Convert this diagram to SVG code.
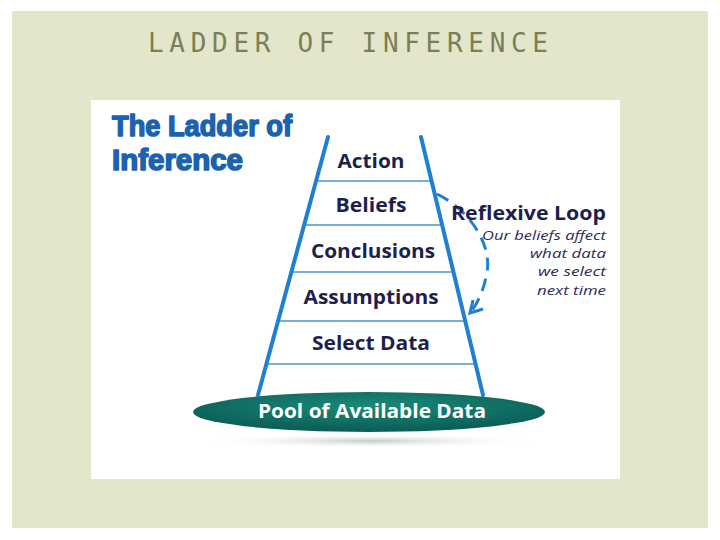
<svg xmlns="http://www.w3.org/2000/svg" width="720" height="540" viewBox="0 0 720 540">
<defs>
<style>
.rail{stroke:#1f7fd2;stroke-width:4;fill:none;stroke-linecap:round}
.rung{stroke:#7aaed6;stroke-width:2;fill:none}
.lbl{font-family:"Open Sans","Noto Sans","Liberation Sans",sans-serif;font-weight:bold;font-size:19px;fill:#1d1f4d;text-anchor:middle}
.note{font-family:"Open Sans","Noto Sans","Liberation Sans",sans-serif;font-style:italic;font-size:13.5px;fill:#2a2c55;text-anchor:end}
.ttl{font-family:"Liberation Sans","Arial",sans-serif;font-weight:bold;font-size:30px;fill:#1b62b0;stroke:#1b62b0;stroke-width:1.6;stroke-linejoin:round}
</style>
<radialGradient id="pool" cx="0.5" cy="0.35" r="0.6">
<stop offset="0" stop-color="#1a8a78"/>
<stop offset="1" stop-color="#0b5f57"/>
</radialGradient>
<radialGradient id="shadow" cx="0.5" cy="0.5" r="0.5">
<stop offset="0" stop-color="#b9c4c4" stop-opacity="0.9"/>
<stop offset="1" stop-color="#ffffff" stop-opacity="0"/>
</radialGradient>
</defs>
<rect x="0" y="0" width="720" height="540" fill="#ffffff"/>
<rect x="12" y="11" width="696" height="517" fill="#e4e6cc"/>
<text x="148" y="52" font-family="'DejaVu Sans Mono','Liberation Mono',monospace" font-size="26" fill="#7b7f55" textLength="400" lengthAdjust="spacing">LADDER OF INFERENCE</text>
<rect x="91" y="100" width="529" height="379" fill="#ffffff"/>
<g id="title">
<text class="ttl" x="112" y="136" textLength="180" lengthAdjust="spacingAndGlyphs">The Ladder of</text>
<text class="ttl" x="112" y="170" textLength="131" lengthAdjust="spacingAndGlyphs">Inference</text>
</g>
<g id="ladder">
<line class="rung" x1="316" y1="181" x2="432" y2="181"/>
<line class="rung" x1="304" y1="225" x2="443" y2="225"/>
<line class="rung" x1="291" y1="272" x2="454" y2="272"/>
<line class="rung" x1="278" y1="321" x2="466" y2="321"/>
<line class="rung" x1="266" y1="364" x2="476" y2="364"/>
<line class="rail" x1="328" y1="137" x2="258" y2="395"/>
<line class="rail" x1="421" y1="137" x2="483" y2="395"/>
</g>
<g id="action"><text class="lbl" x="371" y="168" textLength="67" lengthAdjust="spacingAndGlyphs">Action</text></g>
<g id="beliefs"><text class="lbl" x="371" y="212" textLength="71" lengthAdjust="spacingAndGlyphs">Beliefs</text></g>
<g id="conclusions"><text class="lbl" x="373" y="258" textLength="124" lengthAdjust="spacingAndGlyphs">Conclusions</text></g>
<g id="assumptions"><text class="lbl" x="371" y="304" textLength="135" lengthAdjust="spacingAndGlyphs">Assumptions</text></g>
<g id="select"><text class="lbl" x="371" y="350" textLength="118" lengthAdjust="spacingAndGlyphs">Select Data</text></g>
<g id="pool-node">
<ellipse cx="370" cy="441" rx="170" ry="7" fill="url(#shadow)"/>
<ellipse cx="369" cy="412" rx="176" ry="20" fill="url(#pool)"/>
<text x="372" y="418" font-family="'Open Sans','Noto Sans','Liberation Sans',sans-serif" font-weight="bold" font-size="19" fill="#ffffff" text-anchor="middle" textLength="228" lengthAdjust="spacingAndGlyphs">Pool of Available Data</text>
</g>
<g id="connectors">
<path d="M437,194 C470,210 492,245 487,272 C484,290 478,302 471,312" fill="none" stroke="#1f7fd2" stroke-width="3" stroke-dasharray="13,8"/>
<path d="M473,300 L470,313 L483,309" fill="none" stroke="#1f7fd2" stroke-width="3" stroke-linejoin="miter"/>
</g>
<g id="loop">
<text x="451" y="220" font-family="'Open Sans','Noto Sans','Liberation Sans',sans-serif" font-weight="bold" font-size="19" fill="#1d1f4d" textLength="155" lengthAdjust="spacingAndGlyphs">Reflexive Loop</text>
<text class="note" x="606" y="240" textLength="124" lengthAdjust="spacingAndGlyphs">Our beliefs affect</text>
<text class="note" x="606" y="258" textLength="76" lengthAdjust="spacingAndGlyphs">what data</text>
<text class="note" x="606" y="276" textLength="68" lengthAdjust="spacingAndGlyphs">we select</text>
<text class="note" x="606" y="295" textLength="69" lengthAdjust="spacingAndGlyphs">next time</text>
</g>
</svg>
